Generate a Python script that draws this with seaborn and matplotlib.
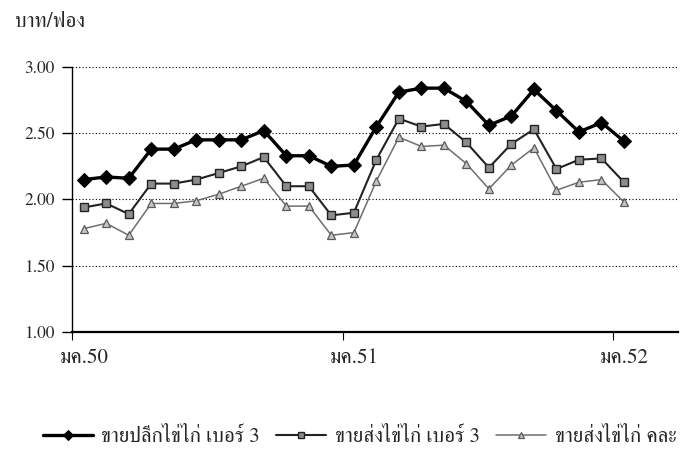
import matplotlib
matplotlib.use('Agg')
import matplotlib.pyplot as plt
import seaborn as sns
from matplotlib.ticker import FixedLocator

# monthly index, Jan 2007 (มค.50) .. Jan 2009 (มค.52)
months = list(range(25))

retail_no3 = [2.15, 2.17, 2.16, 2.38, 2.38, 2.45, 2.45, 2.45, 2.52, 2.33, 2.33, 2.25, 2.26,
              2.55, 2.81, 2.84, 2.84, 2.74, 2.56, 2.63, 2.83, 2.67, 2.51, 2.58, 2.44]
wholesale_no3 = [1.94, 1.97, 1.89, 2.12, 2.12, 2.15, 2.20, 2.25, 2.32, 2.10, 2.10, 1.88, 1.90,
                 2.30, 2.61, 2.55, 2.57, 2.43, 2.24, 2.42, 2.53, 2.23, 2.30, 2.31, 2.13]
wholesale_mixed = [1.78, 1.82, 1.73, 1.97, 1.97, 1.99, 2.04, 2.10, 2.16, 1.95, 1.95, 1.73, 1.75,
                   2.14, 2.47, 2.40, 2.41, 2.27, 2.08, 2.26, 2.39, 2.07, 2.13, 2.15, 1.98]

series_names = ['ขายปลีกไข่ไก่ เบอร์ 3', 'ขายส่งไข่ไก่ เบอร์ 3', 'ขายส่งไข่ไก่ คละ']
xtick_pos = [0, 12, 24]
xtick_labels = ['มค.50', 'มค.51', 'มค.52']
yticks = [1.0, 1.5, 2.0, 2.5, 3.0]

sns.set_style('white')
plt.rcParams['font.family'] = ['FreeSerif', 'DejaVu Sans']

fig = plt.figure(figsize=(6.85, 4.65), dpi=100)
ax = fig.add_axes([0.1058, 0.286, 0.884, 0.570])

styles = [
    dict(color='black', linewidth=2.4, marker='D', markersize=7,
         markerfacecolor='black', markeredgecolor='black'),
    dict(color='#222222', linewidth=1.5, marker='s', markersize=5.5,
         markerfacecolor='#8c8c8c', markeredgecolor='#222222', markeredgewidth=1),
    dict(color='#6e6e6e', linewidth=1.1, marker='^', markersize=6,
         markerfacecolor='#c4c4c4', markeredgecolor='#5a5a5a', markeredgewidth=0.9),
]
order = [2, 1, 0]
data = [retail_no3, wholesale_no3, wholesale_mixed]
for i in order:
    sns.lineplot(x=months, y=data[i], ax=ax, label=series_names[i], zorder=3 + (2 - i),
                 **styles[i])

ax.set_xlim(-0.5, 26.4)
ax.set_ylim(1.0, 3.0)
ax.set_yticks(yticks)
ax.set_yticklabels([f'{v:.2f}' for v in yticks], fontsize=12.5)
ax.yaxis.grid(True, linestyle=(0, (1, 2)), color='black', linewidth=0.8)
ax.tick_params(axis='y', length=7, width=1, color='black', direction='out', pad=6, left=True)

ax.set_xticks(xtick_pos)
ax.set_xticklabels(xtick_labels, fontsize=15)
ax.tick_params(axis='x', length=0, pad=12)
ax.xaxis.set_minor_locator(FixedLocator([-0.5, 11.5, 23.5]))
ax.tick_params(axis='x', which='minor', length=6, width=0.8, color='black', direction='out',
               bottom=True)

for side in ['top', 'right']:
    ax.spines[side].set_visible(False)
ax.spines['left'].set_color('black')
ax.spines['left'].set_linewidth(1.0)
ax.spines['bottom'].set_color('black')
ax.spines['bottom'].set_linewidth(1.6)
ax.set_xlabel('')
ax.set_ylabel('')

fig.text(15 / 685, 1 - 22 / 465, 'บาท/ฟอง', fontsize=15, ha='left', va='center')

handles, labels = ax.get_legend_handles_labels()
ax.get_legend().remove()
lookup = dict(zip(labels, handles))
fig.legend([lookup[n] for n in series_names], series_names, loc='center',
           bbox_to_anchor=(0.525, 1 - 437 / 465), ncol=3, frameon=False, fontsize=15,
           handlelength=2.4, columnspacing=0.8, handletextpad=0.4, markerscale=0.8)

fig.savefig('out.png', dpi=100)
